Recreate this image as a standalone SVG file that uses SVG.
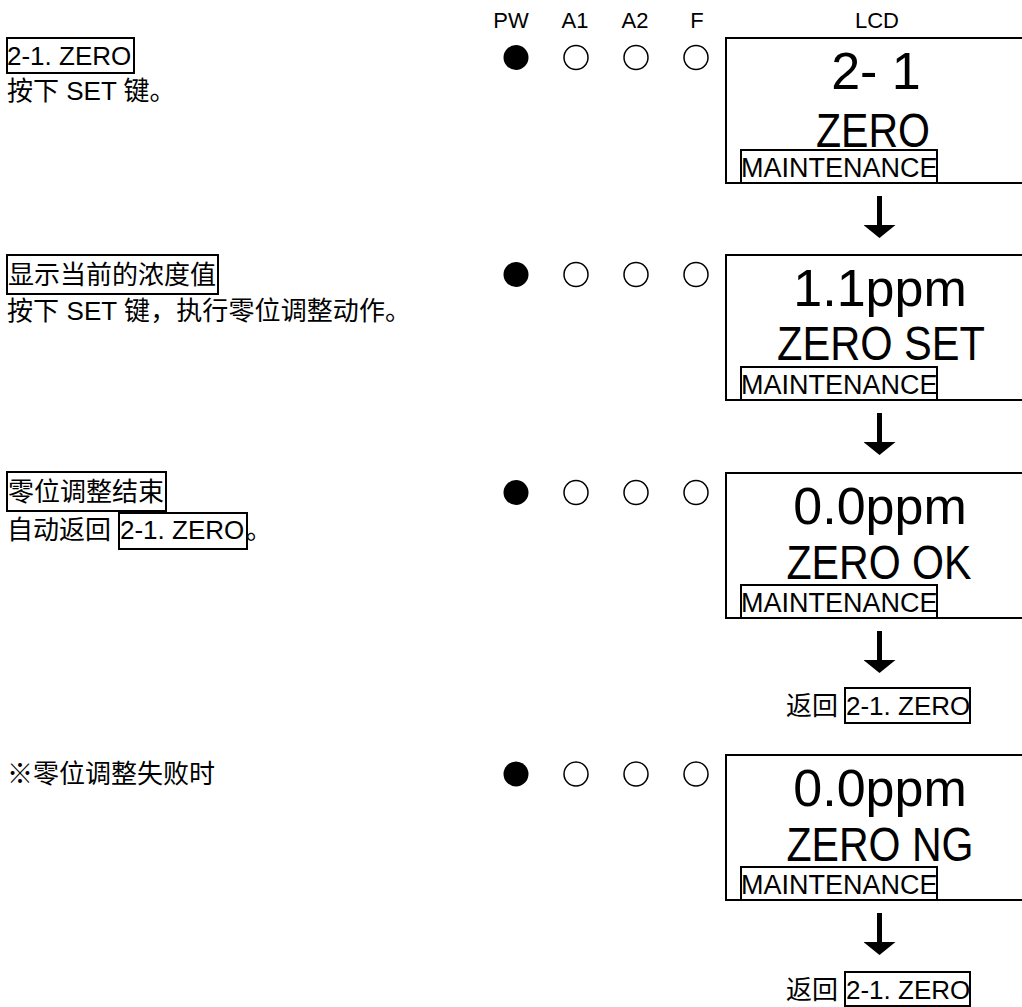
<svg xmlns="http://www.w3.org/2000/svg" width="1022" height="1007" viewBox="0 0 1022 1007">
<style>
  text { font-family: "Liberation Sans", "Noto Sans CJK SC", sans-serif; fill: #000; }
  .t { font-size: 26px; }
  .lbl { font-size: 22px; text-anchor: middle; }
  .big { font-size: 52px; text-anchor: middle; }
  .mid { font-size: 49px; text-anchor: middle; }
  .mnt { font-size: 27px; }
  .frame { fill: none; stroke: #000; stroke-width: 2; }
  .tag { fill: none; stroke: #000; stroke-width: 2; }
  .on { fill: #000; }
  .off { fill: #fff; stroke: #000; stroke-width: 1.5; }
  .arr { stroke: #000; stroke-width: 5; fill: none; marker-end: url(#ah); }
</style>
<defs>
  <marker id="ah" viewBox="0 -16 13 32" markerWidth="13" markerHeight="32" refX="0" refY="0" orient="auto" markerUnits="userSpaceOnUse">
    <path d="M0,-16 L13,0 L0,16 z" fill="#000"/>
  </marker>
</defs>
<rect width="1022" height="1007" fill="#fff"/>

<g id="header">
  <text class="lbl" x="511" y="28">PW</text>
  <text class="lbl" x="575" y="28">A1</text>
  <text class="lbl" x="635" y="28">A2</text>
  <text class="lbl" x="697" y="28">F</text>
  <text class="lbl" x="877" y="28">LCD</text>
</g>

<!-- Row 1 -->
<g id="step1-desc">
  <rect class="tag" x="7" y="38" width="127" height="35"/>
  <text class="t" x="7" y="65">2-1. ZERO</text>
  <text class="t" x="7" y="100">按下 SET 键。</text>
</g>
<g id="step1-leds">
  <circle class="on" cx="516" cy="57.5" r="12.5"/>
  <circle class="off" cx="576" cy="57.5" r="12"/>
  <circle class="off" cx="636" cy="57.5" r="12"/>
  <circle class="off" cx="696" cy="57.5" r="12"/>
</g>
<g id="step1-lcd">
  <rect class="frame" x="726" y="38" width="310" height="145"/>
  <text class="big" x="876" y="89">2- 1</text>
  <text class="mid" x="873" y="147" textLength="114" lengthAdjust="spacingAndGlyphs">ZERO</text>
  <rect class="tag" x="741" y="150" width="196" height="33"/>
  <text class="mnt" x="741" y="177">MAINTENANCE</text>
</g>

<!-- Row 2 -->
<g id="step2-desc">
  <rect class="tag" x="7" y="255" width="211" height="39"/>
  <text class="t" x="8" y="284">显示当前的浓度值</text>
  <text class="t" x="7" y="320" textLength="404" lengthAdjust="spacing">按下 SET 键，执行零位调整动作。</text>
</g>
<g id="step2-leds">
  <circle class="on" cx="516" cy="274.5" r="12.5"/>
  <circle class="off" cx="576" cy="274.5" r="12"/>
  <circle class="off" cx="636" cy="274.5" r="12"/>
  <circle class="off" cx="696" cy="274.5" r="12"/>
</g>
<g id="step2-lcd">
  <rect class="frame" x="726" y="255" width="310" height="145"/>
  <text class="big" x="880" y="306">1.1ppm</text>
  <text class="mid" x="881" y="360" textLength="208" lengthAdjust="spacingAndGlyphs">ZERO SET</text>
  <rect class="tag" x="741" y="367" width="196" height="33"/>
  <text class="mnt" x="741" y="394">MAINTENANCE</text>
</g>

<!-- Row 3 -->
<g id="step3-desc">
  <rect class="tag" x="7" y="472" width="159" height="39"/>
  <text class="t" x="8" y="501">零位调整结束</text>
  <text class="t" x="7" y="539">自动返回 </text>
  <rect class="tag" x="119" y="513" width="128" height="36"/>
  <text class="t" x="120" y="539">2-1. ZERO</text>
  <text class="t" x="246" y="539">。</text>
</g>
<g id="step3-leds">
  <circle class="on" cx="516" cy="492.5" r="12.5"/>
  <circle class="off" cx="576" cy="492.5" r="12"/>
  <circle class="off" cx="636" cy="492.5" r="12"/>
  <circle class="off" cx="696" cy="492.5" r="12"/>
</g>
<g id="step3-lcd">
  <rect class="frame" x="726" y="473" width="310" height="145"/>
  <text class="big" x="880" y="524">0.0ppm</text>
  <text class="mid" x="879" y="579" textLength="185" lengthAdjust="spacingAndGlyphs">ZERO OK</text>
  <rect class="tag" x="741" y="585" width="196" height="33"/>
  <text class="mnt" x="741" y="612">MAINTENANCE</text>
</g>
<g id="return1">
  <text class="t" x="786" y="715">返回 </text>
  <rect class="tag" x="845" y="688" width="125" height="35"/>
  <text class="t" x="846" y="715">2-1. ZERO</text>
</g>

<!-- Row 4 -->
<g id="step4-desc">
  <text class="t" x="7" y="783">※零位调整失败时</text>
</g>
<g id="step4-leds">
  <circle class="on" cx="516" cy="774" r="12.5"/>
  <circle class="off" cx="576" cy="774" r="12"/>
  <circle class="off" cx="636" cy="774" r="12"/>
  <circle class="off" cx="696" cy="774" r="12"/>
</g>
<g id="step4-lcd">
  <rect class="frame" x="726" y="755" width="310" height="145"/>
  <text class="big" x="880" y="806">0.0ppm</text>
  <text class="mid" x="880" y="861" textLength="187" lengthAdjust="spacingAndGlyphs">ZERO NG</text>
  <rect class="tag" x="741" y="867" width="196" height="33"/>
  <text class="mnt" x="741" y="894">MAINTENANCE</text>
</g>
<g id="return2">
  <text class="t" x="786" y="999">返回 </text>
  <rect class="tag" x="845" y="972" width="125" height="34"/>
  <text class="t" x="846" y="999">2-1. ZERO</text>
</g>

<g id="connectors">
  <line class="arr" x1="879.5" y1="196" x2="879.5" y2="225"/>
  <line class="arr" x1="879.5" y1="413" x2="879.5" y2="442"/>
  <line class="arr" x1="879.5" y1="631" x2="879.5" y2="660"/>
  <line class="arr" x1="879.5" y1="913" x2="879.5" y2="942"/>
</g>
</svg>
